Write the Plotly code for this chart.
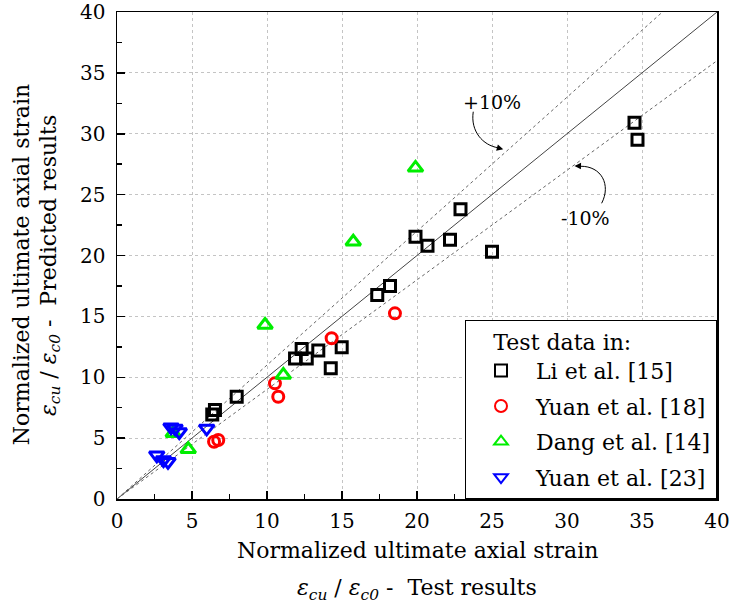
import plotly.graph_objects as go

# ---- data ----
li_x = [34.5, 34.7, 22.9, 22.2, 20.7, 19.9, 25.0, 18.2, 17.35, 14.98, 13.42, 12.31, 12.65, 11.87, 14.25, 7.98, 6.53, 6.35]
li_y = [30.9, 29.5, 23.8, 21.3, 20.8, 21.55, 20.3, 17.5, 16.75, 12.46, 12.2, 12.32, 11.55, 11.55, 10.73, 8.4, 7.3, 6.95]

yuan18_x = [18.53, 14.31, 10.53, 10.75, 6.47, 6.75]
yuan18_y = [15.25, 13.2, 9.5, 8.4, 4.7, 4.85]

dang_x = [19.9, 15.75, 9.87, 11.09, 4.75, 3.75]
dang_y = [27.2, 21.13, 14.29, 10.18, 4.08, 5.4]

yuan23_x = [3.6, 3.87, 4.15, 5.98, 2.65, 3.1, 3.4]
yuan23_y = [5.9, 5.8, 5.5, 5.8, 3.6, 3.2, 3.06]

ref_ratios = [1.0, 1.1, 0.9]
axis_max = 40
tick_vals = [0, 5, 10, 15, 20, 25, 30, 35, 40]

FONT = "DejaVu Serif"
NB = "\u00a0"

fig = go.Figure()

# reference lines
for r in ref_ratios:
    xe = min(axis_max, axis_max / r)
    fig.add_trace(go.Scatter(
        x=[0, xe], y=[0, xe * r], mode="lines",
        line=dict(color="#444444" if r == 1.0 else "#666666", width=1,
                  dash="solid" if r == 1.0 else "3px,3px"),
        showlegend=False, hoverinfo="skip"))

fig.add_trace(go.Scatter(x=li_x, y=li_y, mode="markers", name="Li et al. [15]",
                         legendgroup="g1",
                         marker=dict(symbol="square-open", size=11, color="black",
                                     line=dict(width=3, color="black"))))
fig.add_trace(go.Scatter(x=yuan18_x, y=yuan18_y, mode="markers", name="Yuan et al. [18]",
                         legendgroup="g2",
                         marker=dict(symbol="circle-open", size=11, color="red",
                                     line=dict(width=3, color="red"))))
fig.add_trace(go.Scatter(x=dang_x, y=dang_y, mode="markers", name="Dang et al. [14]",
                         legendgroup="g3",
                         marker=dict(symbol="triangle-up-open", size=13, color="#00ee00",
                                     line=dict(width=3, color="#00ee00"))))
fig.add_trace(go.Scatter(x=yuan23_x, y=yuan23_y, mode="markers", name="Yuan et al. [23]",
                         legendgroup="g4",
                         marker=dict(symbol="triangle-down-open", size=13, color="blue",
                                     line=dict(width=3, color="blue"))))

# curved arrows
fig.add_shape(type="path", xref="x", yref="y",
              path="M 23.75,31.81 C 23.55,30.2 24.4,29.05 25.4,28.85",
              line=dict(color="black", width=1))
fig.add_annotation(x=25.75, y=28.72, ax=25.3, ay=28.88, xref="x", yref="y",
                   axref="x", ayref="y", text="", showarrow=True,
                   arrowhead=2, arrowsize=1.3, arrowwidth=1, arrowcolor="black")
fig.add_shape(type="path", xref="x", yref="y",
              path="M 32.31,24.29 C 32.95,25.8 32.3,27.35 30.9,27.33",
              line=dict(color="black", width=1))
fig.add_annotation(x=30.5, y=27.36, ax=31.0, ay=27.34, xref="x", yref="y",
                   axref="x", ayref="y", text="", showarrow=True,
                   arrowhead=2, arrowsize=1.3, arrowwidth=1, arrowcolor="black")
fig.add_annotation(x=24.98, y=32.63, xref="x", yref="y", text="+10%", showarrow=False,
                   font=dict(family=FONT, size=19, color="black"))
fig.add_annotation(x=31.2, y=23.05, xref="x", yref="y", text="-10%", showarrow=False,
                   font=dict(family=FONT, size=19, color="black"))

# axis titles (two lines each)
title_font = dict(family=FONT, size=22, color="black")
fig.add_annotation(xref="paper", yref="paper", x=0.5, y=-0.105, yanchor="middle",
                   text="Normalized ultimate axial strain", showarrow=False, font=title_font)
fig.add_annotation(xref="paper", yref="paper", x=0.5, y=-0.185, yanchor="middle",
                   text="<i>ε</i><sub><i>cu</i></sub> / <i>ε</i><sub><i>c0</i></sub> -  Test results",
                   showarrow=False, font=title_font)
fig.add_annotation(xref="paper", yref="paper", x=-0.16, y=0.48, xanchor="center",
                   yanchor="middle", textangle=-90,
                   text="Normalized ultimate axial strain", showarrow=False, font=title_font)
fig.add_annotation(xref="paper", yref="paper", x=-0.112, y=0.48, xanchor="center",
                   yanchor="middle", textangle=-90,
                   text="<i>ε</i><sub><i>cu</i></sub> / <i>ε</i><sub><i>c0</i></sub> -  Predicted results",
                   showarrow=False, font=title_font)

axis_common = dict(
    range=[0, axis_max], tickvals=tick_vals, showline=True, linecolor="black",
    linewidth=1.5, mirror=True, ticks="inside", ticklen=8, tickwidth=1.5,
    tickcolor="black", showgrid=True, gridcolor="#c4c4c4", griddash="dot",
    gridwidth=1, zeroline=False, automargin=False, ticklabeloverflow="allow",
    minor=dict(ticks="inside", ticklen=5, tickwidth=1.5, tickcolor="black",
               dtick=2.5, showgrid=False),
    tickfont=dict(family=FONT, size=20, color="black"),
)

fig.update_xaxes(**axis_common, ticklabelstandoff=3)
fig.update_yaxes(**axis_common, ticklabelstandoff=6)

fig.update_layout(
    width=735, height=608,
    margin=dict(l=117, r=18, t=12, b=109),
    plot_bgcolor="white", paper_bgcolor="white",
    hovermode=False,
    font=dict(family=FONT, color="black"),
    legend=dict(x=1, y=0, xanchor="right", yanchor="bottom",
                bordercolor="black", borderwidth=1, bgcolor="white",
                font=dict(family=FONT, size=22, color="black"),
                title=dict(text=NB * 3 + "\u2009" + "Test data in:", font=dict(family=FONT, size=22)),
                itemwidth=60, itemsizing="constant", tracegroupgap=4),
)

# remove the default page margin so the figure fills the window exactly
fig.write_html("out.html", config={"staticPlot": True, "displayModeBar": False},
               post_script="document.body.style.margin='0';")
